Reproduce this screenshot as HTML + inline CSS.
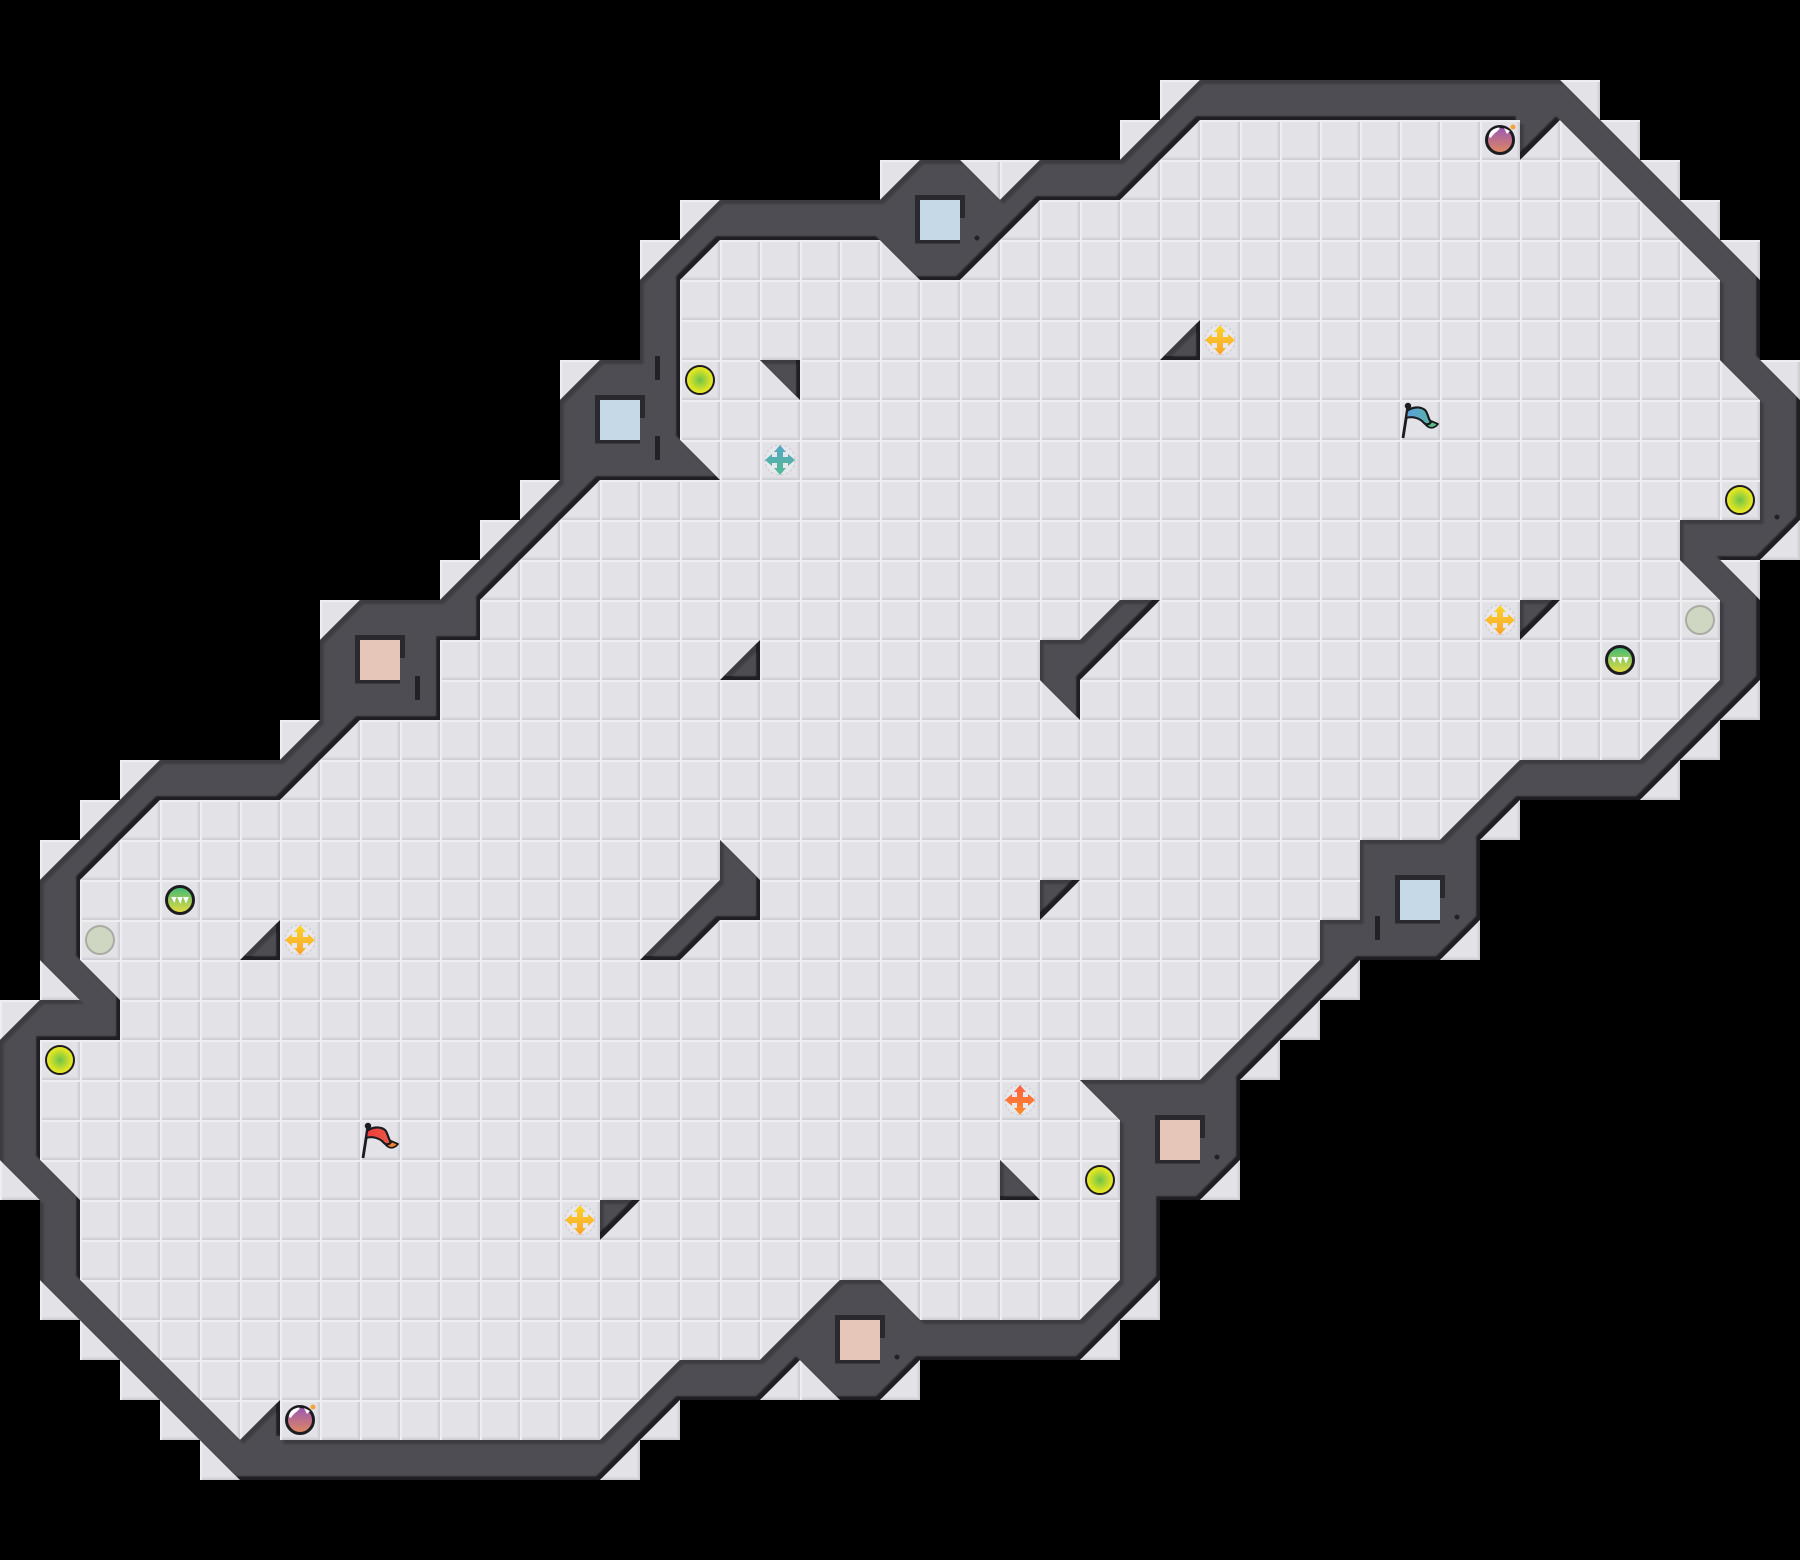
<!DOCTYPE html>
<html><head><meta charset="utf-8"><title>Map</title>
<style>html,body{margin:0;padding:0;background:#000}svg{display:block}</style></head>
<body>
<svg xmlns="http://www.w3.org/2000/svg" width="1800" height="1560" viewBox="0 0 1800 1560">
<defs>
<pattern id="tile" patternUnits="userSpaceOnUse" width="40" height="40">
<rect width="40" height="40" fill="#e2e2e7"/>
<rect x="0" y="37" width="40" height="3" fill="#dadadf"/>
<rect x="37" y="0" width="3" height="40" fill="#dadadf"/>
<rect x="0" y="38.5" width="40" height="1.5" fill="#cdcdd4"/>
<rect x="38.5" y="0" width="1.5" height="40" fill="#cdcdd4"/>
<rect x="0" y="0" width="40" height="2" fill="#eeeef2"/>
<rect x="0" y="0" width="2" height="40" fill="#eeeef2"/>
</pattern>
<filter id="soft" filterUnits="userSpaceOnUse" x="0" y="0" width="1800" height="1560"><feGaussianBlur stdDeviation="1"/></filter>
<path id="o" transform="scale(40)" d="M30 2L39 2L44 7L44 9L45 10L45 13L44 14L43 14L44 15L44 17L41 20L38 20L37 21L37 23L36 24L34 24L31 27L31 29L30 30L29 30L29 32L27 34L23 34L22 35L21 35L20 34L19 35L17 35L15 37L6 37L1 32L1 30L0 29L0 26L1 25L2 25L1 24L1 22L4 19L7 19L8 18L8 16L9 15L11 15L14 12L14 10L15 9L16 9L16 7L18 5L22 5L23 4L24 4L25 5L26 4L28 4Z"/>
<path id="c" transform="scale(40)" d="M39 2h1v1h-1zM40 3h1v1h-1zM41 4h1v1h-1zM42 5h1v1h-1zM43 6h1v1h-1zM44 9h1v1h-1zM44 13h1v1h-1zM43 14h1v1h-1zM43 17h1v1h-1zM42 18h1v1h-1zM41 19h1v1h-1zM37 20h1v1h-1zM36 23h1v1h-1zM33 24h1v1h-1zM32 25h1v1h-1zM31 26h1v1h-1zM30 29h1v1h-1zM28 32h1v1h-1zM27 33h1v1h-1zM22 34h1v1h-1zM20 34h1v1h-1zM19 34h1v1h-1zM16 35h1v1h-1zM15 36h1v1h-1zM5 36h1v1h-1zM4 35h1v1h-1zM3 34h1v1h-1zM2 33h1v1h-1zM1 32h1v1h-1zM0 29h1v1h-1zM0 25h1v1h-1zM1 24h1v1h-1zM1 21h1v1h-1zM2 20h1v1h-1zM3 19h1v1h-1zM7 18h1v1h-1zM8 15h1v1h-1zM13 12h1v1h-1zM12 13h1v1h-1zM11 14h1v1h-1zM14 9h1v1h-1zM17 5h1v1h-1zM16 6h1v1h-1zM22 4h1v1h-1zM24 4h1v1h-1zM25 4h1v1h-1zM29 2h1v1h-1zM28 3h1v1h-1z"/>
<path id="w" transform="scale(40)" fill-rule="evenodd" clip-rule="evenodd" d="M30 2L39 2L44 7L44 9L45 10L45 13L44 14L43 14L44 15L44 17L41 20L38 20L37 21L37 23L36 24L34 24L31 27L31 29L30 30L29 30L29 32L27 34L23 34L22 35L21 35L20 34L19 35L17 35L15 37L6 37L1 32L1 30L0 29L0 26L1 25L2 25L1 24L1 22L4 19L7 19L8 18L8 16L9 15L11 15L14 12L14 10L15 9L16 9L16 7L18 5L22 5L23 4L24 4L25 5L26 4L28 4Z
M30 3L38 3L38 4L39 3L43 7L43 9L44 10L44 13L42 13L42 14L43 15L43 17L41 19L38 19L36 21L34 21L34 23L33 23L33 24L30 27L27 27L28 28L28 32L27 33L23 33L22 32L21 32L19 34L17 34L15 36L7 36L7 35L6 36L2 32L2 30L1 29L1 26L3 26L3 25L2 24L2 22L4 20L7 20L9 18L11 18L11 16L12 16L12 15L15 12L18 12L17 11L17 7L18 6L22 6L23 7L24 7L26 5L28 5Z
M19 9L20 9L20 10Z M29 9L30 9L30 8Z M38 15L39 15L38 16Z M6 24L7 24L7 23Z M25 29L25 30L26 30Z M15 30L16 30L15 31Z M18 17L19 17L19 16Z M26 22L27 22L26 23Z
M26 16L27 16L28 15L29 15L27 17L27 18L26 17Z M18 21L19 22L19 23L18 23L17 24L16 24L18 22Z"/>
<clipPath id="floorclip"><use href="#o"/><use href="#c"/></clipPath>
<clipPath id="wc"><use href="#w"/></clipPath>
<clipPath id="wa"><use href="#w" transform="translate(-4,-4)"/></clipPath>
<clipPath id="wb"><use href="#w" transform="translate(3.5,4)"/></clipPath>
<radialGradient id="orb"><stop offset="0" stop-color="#6cc34a"/><stop offset=".75" stop-color="#d9e326"/><stop offset="1" stop-color="#ecec1e"/></radialGradient>
<linearGradient id="gem" x1="0" y1="0" x2="0" y2="1"><stop offset="0" stop-color="#3cb878"/><stop offset="1" stop-color="#ecdd3c"/></linearGradient>
<linearGradient id="bomb" x1="0" y1="0" x2="0" y2="1"><stop offset="0" stop-color="#9a55b8"/><stop offset="1" stop-color="#e08a5c"/></linearGradient>
<linearGradient id="yel" x1="0" y1="0" x2="0" y2="1"><stop offset="0" stop-color="#fdd52c"/><stop offset="1" stop-color="#f9a32c"/></linearGradient>
<linearGradient id="tea" x1="0" y1="0" x2="0" y2="1"><stop offset="0" stop-color="#55a6c6"/><stop offset="1" stop-color="#55ba94"/></linearGradient>
<linearGradient id="ora" x1="0" y1="0" x2="0" y2="1"><stop offset="0" stop-color="#fd5f42"/><stop offset="1" stop-color="#fb8c2c"/></linearGradient>
<linearGradient id="fb" x1="0" y1="0" x2="1" y2="0"><stop offset="0" stop-color="#5a9ee0"/><stop offset="1" stop-color="#58b4a8"/></linearGradient>
<linearGradient id="fr" x1="0" y1="0" x2="1" y2="0"><stop offset="0" stop-color="#ee3a3c"/><stop offset="1" stop-color="#ea5a44"/></linearGradient>
<path id="cross" d="M0-15L6-8L3-8L3-3L8-3L8-6L15 0L8 6L8 3L3 3L3 8L6 8L0 15L-6 8L-3 8L-3 3L-8 3L-8 6L-15 0L-8-6L-8-3L-3-3L-3-8L-6-8Z"/>
<g id="bg"><circle r="15" fill="#eaeaee" opacity=".8"/><circle r="15" fill="none" stroke="#d2d2d8" stroke-width="1.5" stroke-dasharray="3 2"/></g>
<g id="orbg"><circle r="14" fill="url(#orb)" stroke="#1c1c20" stroke-width="2"/></g>
<g id="grey"><circle r="14" fill="#cfd6c1" stroke="#a9aca2" stroke-width="2"/></g>
<g id="gemg"><circle r="13.5" fill="url(#gem)" stroke="#1c1c20" stroke-width="3"/><path d="M-9-3L-3.5-3L-5.5 3ZM-3-3L2.5-3L.5 4ZM3-3L9-3L6 3.5Z" fill="#fff"/></g>
<g id="bombg"><circle r="13.5" fill="url(#bomb)" stroke="#1c1c20" stroke-width="3"/><path d="M-11-3C-11-9-6-12-.5-12.5C0-9-6-8-9-2Z" fill="#fff"/><path d="M4-12L10-9L7-6Z" fill="#fff"/><circle cx="13" cy="-13" r="2.5" fill="#f6a13a"/></g>
</defs>

<rect width="1800" height="1560" fill="#000"/>
<rect width="1800" height="1560" fill="url(#tile)" clip-path="url(#floorclip)"/>

<g clip-path="url(#wc)">
<rect width="1800" height="1560" fill="#1f1f23"/>
<use href="#w" fill="#3c3c41" transform="translate(-4,-4)"/>
<g filter="url(#soft)"><g clip-path="url(#wa)"><g clip-path="url(#wb)"><rect width="1800" height="1560" fill="#4d4d52"/></g></g></g>
</g>

<!-- windows -->
<g fill="#2a2a2e">
<path d="M595 395h50v23h-5v25.500h-45z"/>
<path d="M915 195h50v23h-5v25.500h-45z"/>
<path d="M1395 875h50v23h-5v25.500h-45z"/>
<path d="M355 635h50v23h-5v25.500h-45z"/>
<path d="M1155 1115h50v23h-5v25.500h-45z"/>
<path d="M835 1315h50v23h-5v25.500h-45z"/>
</g>
<g fill="#c6d9e7">
<rect x="600" y="400" width="40" height="40"/>
<rect x="920" y="200" width="40" height="40"/>
<rect x="1400" y="880" width="40" height="40"/>
</g>
<g fill="#e5c6b9">
<rect x="360" y="640" width="40" height="40"/>
<rect x="1160" y="1120" width="40" height="40"/>
<rect x="840" y="1320" width="40" height="40"/>
</g>

<!-- small marks -->
<g fill="#222226">
<rect x="655" y="356" width="5" height="24" rx="1"/>
<rect x="655" y="436" width="5" height="24" rx="1"/>
<rect x="1375" y="916" width="5" height="24" rx="1"/>
<rect x="415" y="676" width="5" height="24" rx="1"/>
<circle cx="977" cy="238" r="2.500"/>
<circle cx="1777" cy="517" r="2.500"/>
<circle cx="1217" cy="1157" r="2.500"/>
<circle cx="897" cy="1357" r="2.500"/>
<circle cx="1457" cy="917" r="2.500"/>
</g>

<!-- orbs -->
<use href="#orbg" x="700" y="380"/>
<use href="#orbg" x="1740" y="500"/>
<use href="#orbg" x="60" y="1060"/>
<use href="#orbg" x="1100" y="1180"/>
<use href="#grey" x="1700" y="620"/>
<use href="#grey" x="100" y="940"/>
<use href="#gemg" x="1620" y="660"/>
<use href="#gemg" x="180" y="900"/>
<use href="#bombg" x="1500" y="140"/>
<use href="#bombg" x="300" y="1420"/>

<!-- crosses -->
<g transform="translate(1220,340)"><use href="#bg"/><use href="#cross" fill="url(#yel)"/></g>
<g transform="translate(1500,620)"><use href="#bg"/><use href="#cross" fill="url(#yel)"/></g>
<g transform="translate(300,940)"><use href="#bg"/><use href="#cross" fill="url(#yel)"/></g>
<g transform="translate(580,1220)"><use href="#bg"/><use href="#cross" fill="url(#yel)"/></g>
<g transform="translate(780,460)"><use href="#bg"/><use href="#cross" fill="url(#tea)"/></g>
<g transform="translate(1020,1100)"><use href="#bg"/><use href="#cross" fill="url(#ora)"/></g>

<!-- flags -->
<g transform="translate(1400,400)">
<path d="M3 38L8 6" stroke="#1c1c20" stroke-width="2.800" fill="none"/><circle cx="8" cy="6" r="3.200" fill="#1c1c20"/>
<path d="M25 24C29 29 34 29 38 24L31 21C29 24 27 24 25 24Z" fill="#58c08a" stroke="#1c1c20" stroke-width="1.800" stroke-linejoin="round"/>
<path d="M7 11C12 7 20 6 25 10C28 13 28 19 31 22C29 25 26 25 24 23C20 18 12 16 6 18Z" fill="url(#fb)" stroke="#1c1c20" stroke-width="2.200" stroke-linejoin="round"/>
</g>
<g transform="translate(360,1120)">
<path d="M3 38L8 6" stroke="#1c1c20" stroke-width="2.800" fill="none"/><circle cx="8" cy="6" r="3.200" fill="#1c1c20"/>
<path d="M25 24C29 29 34 29 38 24L31 21C29 24 27 24 25 24Z" fill="#f5822e" stroke="#1c1c20" stroke-width="1.800" stroke-linejoin="round"/>
<path d="M7 11C12 7 20 6 25 10C28 13 28 19 31 22C29 25 26 25 24 23C20 18 12 16 6 18Z" fill="url(#fr)" stroke="#1c1c20" stroke-width="2.200" stroke-linejoin="round"/>
</g>
</svg>
</body></html>
